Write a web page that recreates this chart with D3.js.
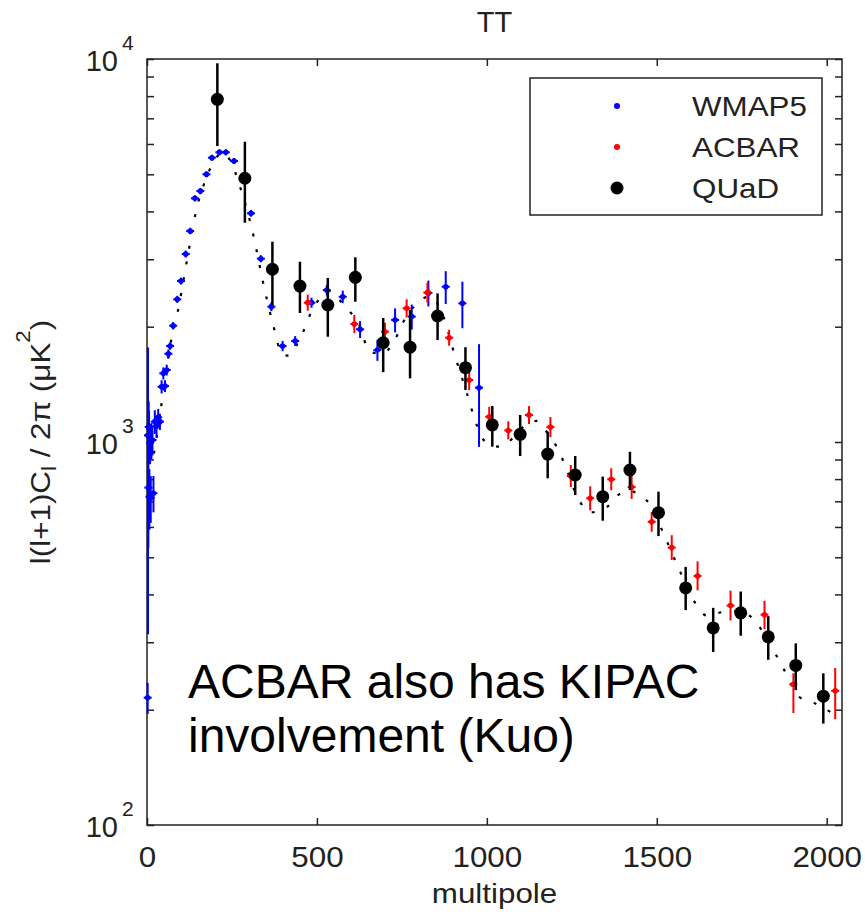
<!DOCTYPE html>
<html>
<head>
<meta charset="utf-8">
<script src="https://cdn.jsdelivr.net/npm/d3@7/dist/d3.min.js"></script>
<style>
  body { margin: 0; background: #fff; }
  svg text { font-family: "Liberation Sans", Arial, Helvetica, sans-serif; fill: #222; }
</style>
</head>
<body>
<div id="chart"></div>
<script>
// WMAP5 band powers (multipole, D_l, 1-sigma)
const wmapL = [2, 3, 4, 5, 6, 7, 9, 11, 13, 16, 19, 23, 28, 33, 38, 43, 48, 53, 58, 63,
  68, 77, 89, 100, 114, 127, 141, 157, 175, 191, 213, 232, 256, 306, 335, 366, 399, 436,
  484, 529, 576, 627, 678, 730, 779, 828, 879, 928, 977];
const wmapD = [215, 1040, 760, 1095, 1045, 720, 995, 715, 1010, 1012, 735, 1130, 1100, 1160, 1130, 1394, 1511, 1400, 1542, 1700,
  1781, 2012, 2358, 2632, 3096, 3556, 4327, 4521, 5000, 5525, 5706, 5706, 5416, 3955, 3010, 2256, 1781, 1835,
  2311, 2492, 2394, 1969, 1739, 2083, 2125, 2449, 2543, 2302, 1386];
const wmapErr = [20, 725, 230, 180, 160, 130, 120, 100, 110, 90, 80, 80, 70, 60, 55, 55, 55, 50, 50, 45,
  40, 45, 50, 55, 65, 70, 80, 85, 90, 100, 105, 105, 100, 80, 65, 60, 55, 55,
  70, 80, 90, 100, 110, 150, 160, 190, 250, 320, 415];

// ACBAR
const acbarL = [473, 610, 700, 764, 825, 889, 948, 1007, 1063, 1124, 1187, 1247, 1304, 1366, 1426, 1485, 1544, 1620, 1717, 1817, 1902, 2025];
const acbarD = [2311, 2033, 1941, 2234, 2455, 1872, 1452, 1164, 1072, 1176, 1094, 815, 713, 799, 763, 619, 530, 447, 374, 354, 233, 224];
const acbarLo = [2202, 1926, 1839, 2116, 2312, 1784, 1367, 1096, 1016, 1114, 1030, 763, 663, 748, 710, 583, 492, 410, 342, 325, 196, 189];
const acbarHi = [2425, 2146, 2049, 2358, 2607, 1964, 1542, 1236, 1132, 1241, 1162, 871, 766, 854, 820, 657, 571, 488, 409, 385, 249, 257];

// QUaD
const quadL = [207, 288, 369, 450, 532, 613, 695, 774, 855, 937, 1016, 1098, 1179, 1260, 1341, 1421, 1505, 1585, 1666, 1747, 1828, 1909, 1990];
const quadD = [7848, 4882, 2825, 2554, 2279, 2692, 1816, 1768, 2133, 1563, 1108, 1047, 930, 820, 720, 845, 654, 416, 327, 358, 310, 261, 217];
const quadLo = [5928, 3737, 2279, 2172, 1883, 2324, 1522, 1466, 1845, 1367, 972, 919, 804, 727, 623, 749, 568, 364, 283, 312, 270, 225, 184];
const quadHi = [9745, 6081, 3334, 2956, 2681, 3036, 2108, 2212, 2444, 1768, 1242, 1176, 1064, 919, 812, 943, 742, 472, 369, 407, 351, 298, 249];

// best-fit model curve (dotted)
const theoryL = [2, 10, 20, 30, 45, 60, 73, 94, 109, 121, 144, 175, 206, 222, 244, 275, 311, 344, 370, 399, 420, 440, 458, 478, 507, 540,
  580, 622, 656, 690, 729, 752, 790, 833, 870, 906, 941, 970, 998, 1039, 1080, 1120, 1148, 1180, 1207, 1230, 1263, 1304,
  1354, 1386, 1420, 1442, 1480, 1524, 1569, 1613, 1648, 1695, 1740, 1783, 1842, 1869, 1919, 1960, 2000, 2040];
const theoryD = [1000, 880, 930, 1050, 1300, 1600, 1884, 2265, 2700, 3100, 3993, 4900, 5556, 5700, 5448, 4600, 3528, 2550, 2042, 1690, 1680, 1790, 1922, 2133, 2362, 2480,
  2265, 2042, 1720, 1700, 1845, 2042, 2280, 2400, 2150, 1680, 1343, 1108, 996, 972, 1030, 1120, 1135, 1050, 966, 870, 730, 655,
  677, 727, 745, 735, 686, 565, 458, 380, 352, 360, 362, 346, 287, 260, 216, 209, 200, 190];

const xTicks = [0, 500, 1000, 1500, 2000];
const yMajor = [100, 1000, 10000];
const yMinor = [200, 300, 400, 500, 600, 700, 800, 900, 2000, 3000, 4000, 5000, 6000, 7000, 8000, 9000];

const legendItems = ['WMAP5', 'ACBAR', 'QUaD'];
const noteLines = ['ACBAR also has KIPAC', 'involvement (Kuo)'];

const W = 865, H = 917;
const LEFT = 147, RIGHT = 842, TOP = 59, BOTTOM = 825;
const INK = '#222';
// matlab's helvetica comes out a bit wider than liberation sans
const WIDE = 1.12;

const svg = d3.select('#chart').append('svg')
  .attr('width', W)
  .attr('height', H);

const x = d3.scaleLinear().domain([0, 2045]).range([LEFT, RIGHT]);
const y = d3.scaleLog().domain([100, 10000]).range([BOTTOM, TOP]);

// axes, ticks inward like matlab
const styleAxis = (g) => {
  g.attr('color', INK).attr('font-family', null).attr('font-size', 29);
  g.select('.domain').remove();
  g.selectAll('.tick line').attr('stroke-width', 1.5);
};

svg.append('g')
  .attr('transform', `translate(0,${BOTTOM})`)
  .call(d3.axisBottom(x).tickValues(xTicks).tickSizeInner(-7).tickSizeOuter(0).tickPadding(21).tickFormat(d3.format('d')))
  .call(styleAxis)
  .selectAll('.tick text')
  .attr('transform', 'scale(1.08,1)');

svg.append('g')
  .attr('transform', `translate(0,${TOP})`)
  .call(d3.axisTop(x).tickValues(xTicks).tickSizeInner(-7).tickSizeOuter(0).tickFormat(''))
  .call(styleAxis);

const yTicks = yMajor.concat(yMinor);

svg.append('g')
  .attr('transform', `translate(${LEFT},0)`)
  .call(d3.axisLeft(y).tickValues(yTicks).tickSizeInner(-7).tickSizeOuter(0).tickFormat(''))
  .call(styleAxis);

svg.append('g')
  .attr('transform', `translate(${RIGHT},0)`)
  .call(d3.axisRight(y).tickValues(yTicks).tickSizeInner(-7).tickSizeOuter(0).tickFormat(''))
  .call(styleAxis);

// y labels as 10^n
yMajor.forEach((v) => {
  svg.append('text')
    .attr('x', 118).attr('y', y(v) + 12)
    .attr('text-anchor', 'end')
    .attr('font-size', 29)
    .text('10');
  svg.append('text')
    .attr('x', 122).attr('y', y(v) - 9)
    .attr('font-size', 21)
    .text(Math.round(Math.log10(v)));
});

// frame
svg.append('rect')
  .attr('x', LEFT).attr('y', TOP)
  .attr('width', RIGHT - LEFT).attr('height', BOTTOM - TOP)
  .attr('fill', 'none')
  .attr('stroke', INK)
  .attr('stroke-width', 1.5);

const plot = svg.append('g');

// model curve
const theory = theoryL.map((l, i) => ({ l, D: theoryD[i] }));
plot.append('path')
  .datum(theory)
  .attr('fill', 'none')
  .attr('stroke', '#000')
  .attr('stroke-width', 2.2)
  .attr('stroke-dasharray', '3,13')
  .attr('d', d3.line().x(d => x(d.l)).y(d => y(d.D)).curve(d3.curveMonotoneX));

function drawSeries(data, color, opts) {
  const g = plot.append('g');
  g.selectAll('line.err')
    .data(data)
    .enter().append('line')
    .attr('class', 'err')
    .attr('x1', d => x(d.l)).attr('x2', d => x(d.l))
    .attr('y1', d => y(d.lo)).attr('y2', d => y(d.hi))
    .attr('stroke', color)
    .attr('stroke-width', opts.width);
  if (opts.cross) {
    g.selectAll('line.cross')
      .data(data)
      .enter().append('line')
      .attr('class', 'cross')
      .attr('x1', d => x(d.l) - 4).attr('x2', d => x(d.l) + 4)
      .attr('y1', d => y(d.D)).attr('y2', d => y(d.D))
      .attr('stroke', color)
      .attr('stroke-width', 2);
  }
  g.selectAll('circle')
    .data(data)
    .enter().append('circle')
    .attr('cx', d => x(d.l))
    .attr('cy', d => y(d.D))
    .attr('r', opts.r)
    .attr('fill', color);
}

const wmap = wmapL.map((l, i) => ({
  l, D: wmapD[i], lo: Math.max(wmapD[i] - wmapErr[i], 101), hi: wmapD[i] + wmapErr[i]
}));
const acbar = acbarL.map((l, i) => ({ l, D: acbarD[i], lo: acbarLo[i], hi: acbarHi[i] }));
const quad = quadL.map((l, i) => ({ l, D: quadD[i], lo: quadLo[i], hi: quadHi[i] }));

drawSeries(wmap, '#0000ff', { r: 2.8, width: 2, cross: true });
drawSeries(acbar, '#ff0000', { r: 2.8, width: 2, cross: true });
drawSeries(quad, '#000', { r: 6.5, width: 2.5, cross: false });

// titles
svg.append('text')
  .attr('x', (LEFT + RIGHT) / 2).attr('y', 32)
  .attr('text-anchor', 'middle')
  .attr('font-size', 29)
  .text('TT');

svg.append('text')
  .attr('transform', `translate(${(LEFT + RIGHT) / 2},903) scale(${WIDE},1)`)
  .attr('text-anchor', 'middle')
  .attr('font-size', 28)
  .text('multipole');

const ylab = svg.append('text')
  .attr('transform', `translate(50,${(TOP + BOTTOM) / 2}) rotate(-90) scale(${WIDE},1)`)
  .attr('text-anchor', 'middle')
  .attr('font-size', 28);
ylab.append('tspan').text('l(l+1)C');
ylab.append('tspan').attr('font-size', 20).attr('dy', 6).text('l');
ylab.append('tspan').attr('dy', -6).text(' / 2\u03C0 (\u03BCK');
ylab.append('tspan').attr('font-size', 20).attr('dy', -20).text('2');
ylab.append('tspan').attr('dy', 20).text(')');

// legend
const legend = svg.append('g');
legend.append('rect')
  .attr('x', 530).attr('y', 78)
  .attr('width', 292).attr('height', 137)
  .attr('fill', '#fff')
  .attr('stroke', INK)
  .attr('stroke-width', 1.5);

const legendColor = ['#0000ff', '#ff0000', '#000'];
const legendR = [3, 3, 6.5];
legendItems.forEach((name, i) => {
  const cy = 106 + i * 41;
  legend.append('circle')
    .attr('cx', 617).attr('cy', cy)
    .attr('r', legendR[i])
    .attr('fill', legendColor[i]);
  legend.append('text')
    .attr('transform', `translate(692,${cy + 10}) scale(${WIDE},1)`)
    .attr('font-size', 28)
    .text(name);
});

// note
noteLines.forEach((line, i) => {
  svg.append('text')
    .attr('x', 188).attr('y', 698 + i * 54)
    .attr('font-size', 48)
    .style('fill', '#000')
    .text(line);
});
</script>
</body>
</html>
